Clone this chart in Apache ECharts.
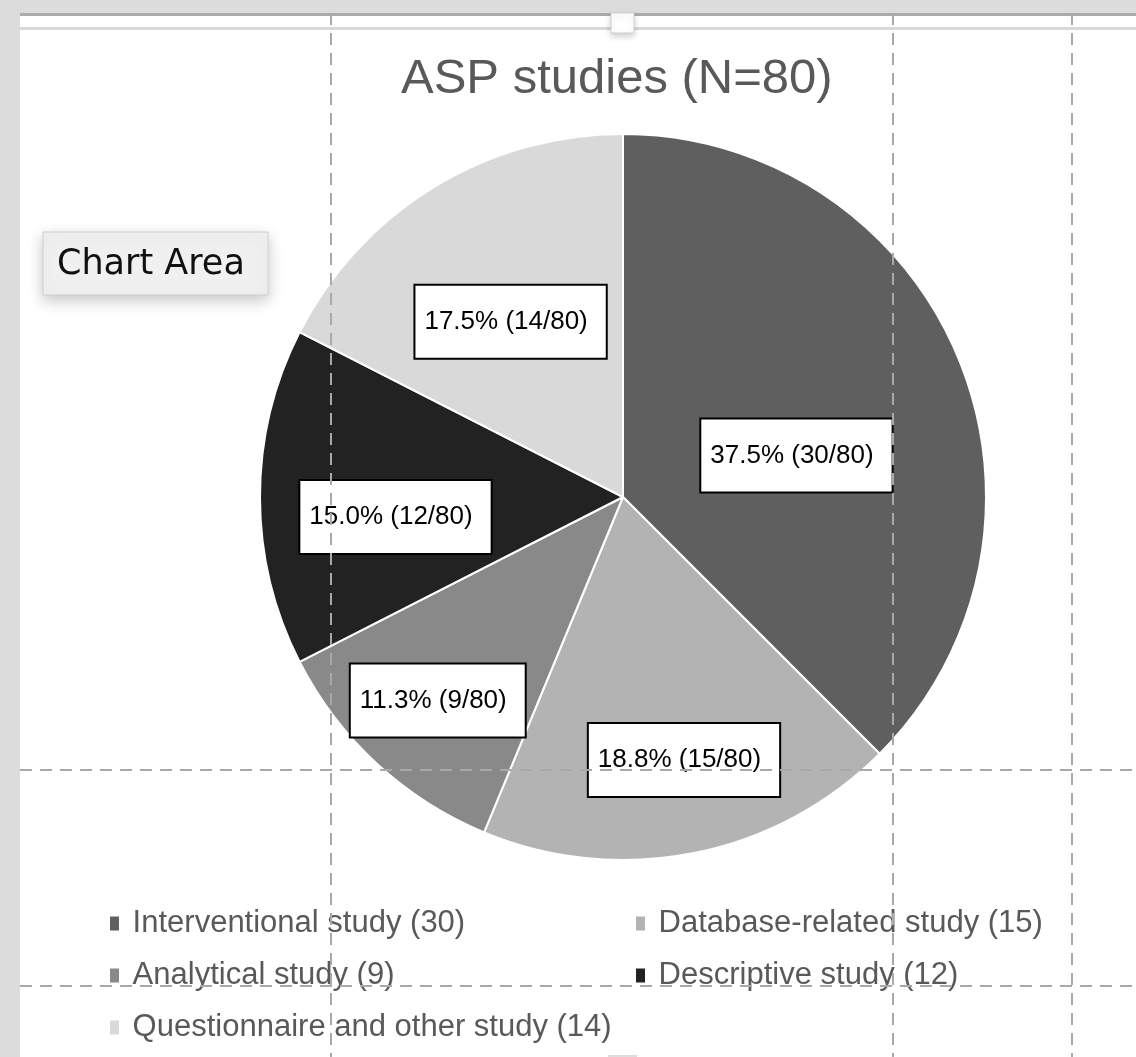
<!DOCTYPE html>
<html>
<head>
<meta charset="utf-8">
<script src="https://cdn.jsdelivr.net/npm/echarts@6/dist/echarts.min.js"></script>
<style>
  html, body { margin: 0; padding: 0; background: #dcdcdc; }
  #chart { width: 1136px; height: 1057px; }
</style>
</head>
<body>
<div id="chart"></div>
<script>
// Study categories and how many of the 80 ASP studies fall in each
const studyTypes = [
  'Interventional study',
  'Database-related study',
  'Analytical study',
  'Descriptive study',
  'Questionnaire and other study'
];
const studyCounts = [30, 15, 9, 12, 14];
const sliceColors = ['#5f5f5f', '#b3b3b3', '#898989', '#222222', '#d9d9d9'];

// Legend columns (names in each column, top to bottom)
const legendLeftColumn = ['Interventional study', 'Analytical study', 'Questionnaire and other study'];
const legendRightColumn = ['Database-related study', 'Descriptive study'];

const totalStudies = studyCounts.reduce((a, b) => a + b, 0);
const countByName = {};
studyTypes.forEach((n, i) => { countByName[n] = studyCounts[i]; });

// Label nudges away from the default mid-radius spot, per slice
const labelNudge = [[3, 29], [25, 82], [-60, 68], [-43, 20], [-16, -18]];

const pieData = studyTypes.map((name, i) => ({
  name: name,
  value: studyCounts[i],
  itemStyle: { color: sliceColors[i] },
  label: { offset: labelNudge[i] }
}));

const guideStyle = { stroke: '#a9a9a9', lineWidth: 2, lineDash: [12, 8] };
const vLine = x => ({ type: 'line', z: 100, silent: true, shape: { x1: x, y1: 13, x2: x, y2: 1057 }, style: guideStyle });
const hLine = y => ({ type: 'line', z: 100, silent: true, shape: { x1: 20, y1: y, x2: 1136, y2: y }, style: guideStyle });

const legendBase = {
  orient: 'vertical',
  top: 908,
  padding: 0,
  itemWidth: 9,
  itemHeight: 14,
  itemGap: 21,
  icon: 'rect',
  itemStyle: { borderWidth: 0 },
  selectedMode: false,
  formatter: name => ' ' + name + ' (' + countByName[name] + ')',
  textStyle: { fontFamily: 'Liberation Sans, Arial, sans-serif', fontSize: 31, color: '#595959' }
};

const chart = echarts.init(document.getElementById('chart'), null, { renderer: 'canvas' });
chart.setOption({
  backgroundColor: '#dcdcdc',
  animation: false,
  title: {
    text: 'ASP studies (N=' + totalStudies + ')',
    left: 401,
    top: 55,
    padding: 0,
    textStyle: { fontFamily: 'Liberation Sans, Arial, sans-serif', fontSize: 49, fontWeight: 'normal', color: '#595959' }
  },
  legend: [
    Object.assign({}, legendBase, { left: 110, data: legendLeftColumn }),
    Object.assign({}, legendBase, { left: 636, data: legendRightColumn })
  ],
  graphic: [
    // workbook frame
    { type: 'rect', z: -10, silent: true, shape: { x: 20, y: 13, width: 1116, height: 1044 }, style: { fill: '#ffffff' } },
    { type: 'rect', z: -9, silent: true, shape: { x: 20, y: 13, width: 1116, height: 3 }, style: { fill: '#ababab' } },
    { type: 'rect', z: -9, silent: true, shape: { x: 20, y: 27, width: 1116, height: 3 }, style: { fill: '#d8d8d8' } },
    // selection handles
    { type: 'rect', z: 101, silent: true, shape: { x: 611, y: 13, width: 23, height: 20 },
      style: { fill: '#ffffff', stroke: '#d0d0d0', lineWidth: 1, shadowBlur: 6, shadowOffsetY: 3, shadowColor: 'rgba(0,0,0,0.18)' } },
    { type: 'line', z: 101, silent: true, shape: { x1: 608, y1: 1056, x2: 637, y2: 1056 }, style: { stroke: '#dddddd', lineWidth: 2 } },
    // layout guides
    vLine(331), vLine(893), vLine(1072),
    hLine(770), hLine(986),
    // hover tag
    {
      type: 'group', z: 102, silent: true,
      children: [
        { type: 'rect', shape: { x: 43, y: 232, width: 225, height: 63 },
          style: { fill: '#f0f0f0', stroke: '#cfcfcf', lineWidth: 1, shadowBlur: 14, shadowOffsetY: 5, shadowColor: 'rgba(0,0,0,0.22)' } },
        { type: 'text', style: { x: 57, y: 265, text: 'Chart Area', fill: '#111111',
          font: '35px "DejaVu Sans", sans-serif', textVerticalAlign: 'middle' } }
      ]
    }
  ],
  series: [{
    type: 'pie',
    center: [623, 497],
    radius: 363,
    startAngle: 90,
    clockwise: true,
    avoidLabelOverlap: false,
    emphasis: { disabled: true },
    itemStyle: { borderColor: '#ffffff', borderWidth: 2 },
    labelLine: { show: false },
    label: {
      show: true,
      position: 'inside',
      formatter: p => (p.value / totalStudies * 100).toFixed(1) + '% (' + p.value + '/' + totalStudies + ')',
      fontFamily: 'Liberation Sans, Arial, sans-serif',
      fontSize: 26,
      color: '#000000',
      backgroundColor: '#ffffff',
      borderColor: '#000000',
      borderWidth: 2,
      padding: [23, 18, 23, 9]
    },
    data: pieData
  }]
});
</script>
</body>
</html>
